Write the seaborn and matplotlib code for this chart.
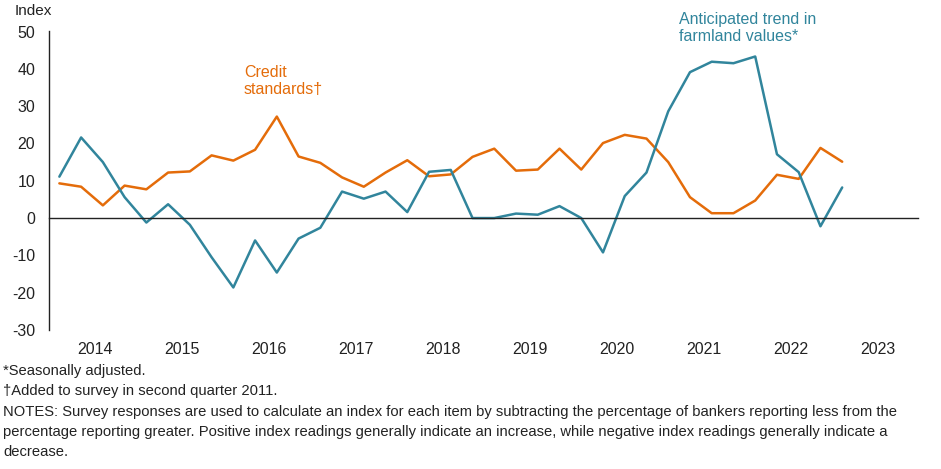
import numpy as np
import pandas as pd
import matplotlib
matplotlib.use("Agg")
import matplotlib.pyplot as plt
import matplotlib.transforms as mtransforms
import seaborn as sns

# ---- data: quarterly index readings, 2014Q1 .. 2023Q1 ----------------------
years = list(range(2014, 2024))
quarters = [f"{y}Q{q}" for y in years for q in range(1, 5)][:37]

credit_standards = [
    9.3, 8.4, 3.4, 8.7, 7.7, 12.2, 12.5, 16.8, 15.4, 18.3,
    27.2, 16.5, 14.8, 10.9, 8.4, 12.2, 15.5, 11.2, 11.7, 16.4,
    18.6, 12.7, 13.0, 18.6, 13.0, 20.1, 22.3, 21.3, 15.0, 5.6,
    1.3, 1.3, 4.7, 11.6, 10.5, 18.8, 15.1,
]
farmland_trend = [
    11.1, 21.6, 15.0, 5.6, -1.2, 3.7, -1.8, -10.5, -18.6, -6.0,
    -14.6, -5.5, -2.6, 7.1, 5.2, 7.1, 1.6, 12.4, 12.9, 0.0,
    0.0, 1.2, 0.9, 3.2, 0.0, -9.2, 5.9, 12.2, 28.6, 39.1,
    41.9, 41.5, 43.3, 17.1, 12.3, -2.2, 8.2,
]

ORANGE = "#E46C0A"
TEAL = "#31859C"
INK = "#222222"

df = pd.concat([
    pd.DataFrame({"quarter": quarters, "pos": range(len(quarters)),
                  "value": credit_standards, "series": "credit"}),
    pd.DataFrame({"quarter": quarters, "pos": range(len(quarters)),
                  "value": farmland_trend, "series": "farmland"}),
])

sns.set_theme(style="white")
plt.rcParams["font.family"] = ["Liberation Sans", "DejaVu Sans"]
plt.rcParams["axes.unicode_minus"] = False

fig = plt.figure(figsize=(9.41, 4.69), dpi=100)
W, H = 941, 469
ax = fig.add_axes([48.5 / W, 1 - 330 / H, (918.3 - 48.5) / W, (330 - 31.5) / H])

sns.lineplot(data=df, x="pos", y="value", hue="series",
             palette={"credit": ORANGE, "farmland": TEAL},
             linewidth=1.8, legend=False, ax=ax)

ax.set_xlim(-0.5, 39.5)
ax.set_ylim(-30, 50)
ax.set_yticks(range(-30, 51, 10))
ax.set_xlabel("")
ax.set_ylabel("")

# x axis sits on the zero line, ticks mark year boundaries
for s in ["top", "right"]:
    ax.spines[s].set_visible(False)
ax.spines["bottom"].set_position(("data", 0))
for s in ["left", "bottom"]:
    ax.spines[s].set_color(INK)
    ax.spines[s].set_linewidth(1.0)
ax.set_xticks(np.arange(3.5, 40, 4))
ax.set_xticklabels([])
ax.tick_params(axis="x", direction="out", length=4, width=1, color=INK)
ax.tick_params(axis="y", direction="out", length=5, width=1, color=INK,
               labelsize=11.5, labelcolor=INK, pad=4.5)

# year labels below the plot area
trans = mtransforms.blended_transform_factory(ax.transData, fig.transFigure)
for i, y in enumerate(years):
    ax.text(4 * i + 1.65, 1 - 349 / H, str(y), transform=trans, ha="center",
            va="center", fontsize=11.5, color=INK)

fig.text(15 / W, 1 - 11 / H, "Index", fontsize=11, color=INK,
         ha="left", va="center")

fig.text(244 / W, 1 - 81 / H, "Credit\nstandards\u2020", color=ORANGE,
         fontsize=11.5, ha="left", va="center", linespacing=1.15)
fig.text(679 / W, 1 - 28 / H, "Anticipated trend in\nfarmland values*",
         color=TEAL, fontsize=11.5, ha="left", va="center", linespacing=1.15)

notes = [
    "*Seasonally adjusted.",
    "\u2020Added to survey in second quarter 2011.",
    "NOTES: Survey responses are used to calculate an index for each item by "
    "subtracting the percentage of bankers reporting less from the",
    "percentage reporting greater. Positive index readings generally indicate "
    "an increase, while negative index readings generally indicate a",
    "decrease.",
]
for k, line in enumerate(notes):
    fig.text(3 / W, 1 - (371 + 20.3 * k) / H, line, fontsize=10.6,
             color=INK, ha="left", va="center")

fig.savefig("out.png", dpi=100)
